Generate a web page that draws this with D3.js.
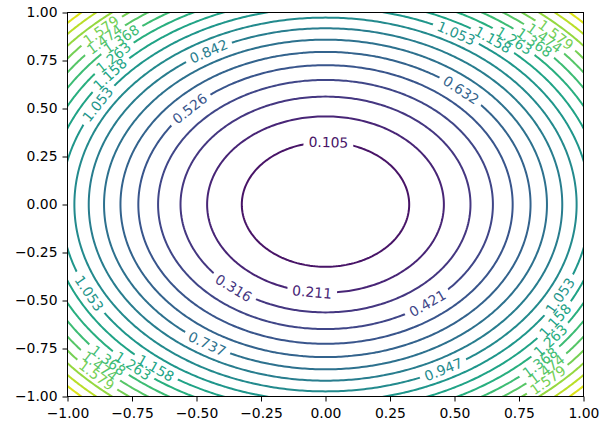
<!DOCTYPE html>
<html>
<head>
<meta charset="utf-8">
<script src="https://cdn.jsdelivr.net/npm/d3@7"></script>
<style>
  body { margin: 0; background: #fff; }
  text { font-family: "DejaVu Sans", sans-serif; }
</style>
</head>
<body>
<div class="graph"></div>
<script>
"use strict";

// contour levels
var levels = [0.10526, 0.21053, 0.31579, 0.42105, 0.52632, 0.63158, 0.73684, 0.84211, 0.94737,
    1.05263, 1.15789, 1.26316, 1.36842, 1.47368, 1.57895, 1.68421, 1.78947, 1.89474];
var levelMax = 2;
// where each label sits on its ring (polar angle, degrees)
var labelAngles = [
    [88], [263.5], [230.7], [307.5], [136.5], [48.6], [237.7], [119.6], [298],
    [60.4, 149.4, 206.8, 332.4],
    [52.9, 140.9, 232.3, 325.8],
    [49.4, 137, 228.4, 320.9],
    [46.2, 132.6, 224, 315.3],
    [45.6, 134.9, 223.9, 315],
    [44.7, 133.8, 225.1, 313.3],
    [], [], []
];
var xTicks = [-1, -0.75, -0.5, -0.25, 0, 0.25, 0.5, 0.75, 1];
var yTicks = [-1, -0.75, -0.5, -0.25, 0, 0.25, 0.5, 0.75, 1];

var svgWidth = 608, svgHeight = 423;
var plotLeft = 67.5, plotRight = 583.5, plotTop = 12.5, plotBottom = 396.5;
var fontSize = 13.9;

var svg = d3.select(".graph").append("svg").attr("width", svgWidth).attr("height", svgHeight);

var x = d3.scaleLinear().domain([-1, 1]).range([plotLeft, plotRight]);
var y = d3.scaleLinear().domain([-1, 1]).range([plotBottom, plotTop]);

// sample z = x^2 + y^2 a bit past the axes so grid edges get clipped away
var n = 241, g0 = -1.2, step = 0.01;
var values = new Array(n * n);
for (var j = 0; j < n; j++) {
    for (var i = 0; i < n; i++) {
        var gx = g0 + i * step, gy = g0 + j * step;
        values[j * n + i] = gx * gx + gy * gy;
    }
}
var contours = d3.contours().size([n, n]).thresholds(levels)(values);

var proj = d3.geoTransform({
    point: function (gx, gy) {
        this.stream.point(x(g0 + (gx - 0.5) * step), y(g0 + (gy - 0.5) * step));
    }
});
var path = d3.geoPath(proj);

function color(v) {
    return d3.interpolateViridis(v / levelMax);
}

var defs = svg.append("defs");
defs.append("clipPath").attr("id", "plot-clip").append("rect")
    .attr("x", plotLeft).attr("y", plotTop).attr("width", plotRight - plotLeft).attr("height", plotBottom - plotTop);

// labels first (so we can measure them for the gaps)
var labels = [];
levels.forEach(function (lv, k) {
    var r = Math.sqrt(lv);
    labelAngles[k].forEach(function (deg) {
        var t = deg * Math.PI / 180;
        var px = x(r * Math.cos(t)), py = y(r * Math.sin(t));
        var dx = -Math.sin(t) * (x(1) - x(0));
        var dy = Math.cos(t) * (y(1) - y(0));
        var rot = Math.atan2(dy, dx) * 180 / Math.PI;
        if (rot > 90) rot -= 180;
        if (rot < -90) rot += 180;
        labels.push({ k: k, value: lv, x: px, y: py, rot: rot });
    });
});

var lineGroup = svg.append("g").attr("clip-path", "url(#plot-clip)");
var labelGroup = svg.append("g");

var labelText = labelGroup.selectAll("text").data(labels).enter().append("text")
    .attr("transform", function (d) { return "translate(" + d.x + "," + d.y + ") rotate(" + d.rot + ")"; })
    .attr("text-anchor", "middle")
    .attr("dy", "0.36em")
    .attr("font-size", fontSize)
    .attr("fill", function (d) { return color(d.value); })
    .text(function (d) { return d.value.toFixed(3); });

labelText.each(function (d) { d.w = this.getComputedTextLength(); });

// one mask per level, cutting gaps only in its own line
levels.forEach(function (lv, k) {
    var m = defs.append("mask").attr("id", "gap-" + k).attr("maskUnits", "userSpaceOnUse")
        .attr("x", 0).attr("y", 0).attr("width", svgWidth).attr("height", svgHeight);
    m.append("rect").attr("x", 0).attr("y", 0).attr("width", svgWidth).attr("height", svgHeight).attr("fill", "white");
    labels.filter(function (d) { return d.k === k; }).forEach(function (d) {
        m.append("rect")
            .attr("x", -d.w / 2 - 5).attr("y", -6).attr("width", d.w + 10).attr("height", 12)
            .attr("transform", "translate(" + d.x + "," + d.y + ") rotate(" + d.rot + ")")
            .attr("fill", "black");
    });
});

lineGroup.selectAll("path").data(contours).enter().append("path")
    .attr("d", path)
    .attr("fill", "none")
    .attr("stroke", function (d) { return color(d.value); })
    .attr("stroke-width", 2)
    .attr("mask", function (d, k) { return "url(#gap-" + k + ")"; });

// axes
var fmt = d3.format(".2f");
var xAxis = svg.append("g").attr("transform", "translate(0," + plotBottom + ")")
    .call(d3.axisBottom(x).tickValues(xTicks).tickFormat(fmt).tickSizeOuter(0).tickSize(5).tickPadding(7));
var yAxis = svg.append("g").attr("transform", "translate(" + plotLeft + ",0)")
    .call(d3.axisLeft(y).tickValues(yTicks).tickFormat(fmt).tickSizeOuter(0).tickSize(5).tickPadding(5));
[xAxis, yAxis].forEach(function (a) {
    a.select(".domain").remove();
    a.selectAll("text").attr("font-size", fontSize).attr("font-family", "DejaVu Sans").attr("fill", "#000");
    a.selectAll("line").attr("stroke", "#000").attr("stroke-width", 1);
});

svg.append("rect")
    .attr("x", plotLeft).attr("y", plotTop).attr("width", plotRight - plotLeft).attr("height", plotBottom - plotTop)
    .attr("fill", "none").attr("stroke", "#000").attr("stroke-width", 1);
</script>
</body>
</html>
